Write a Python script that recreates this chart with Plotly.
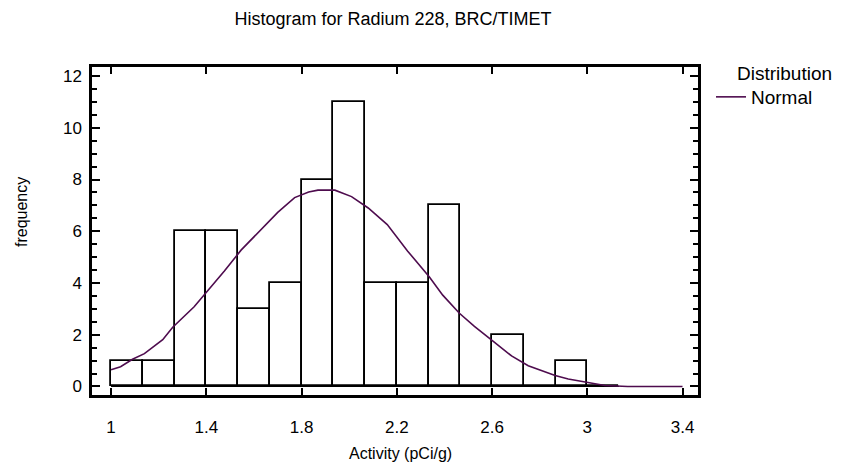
import plotly.graph_objects as go

# Histogram bins (lower edge) and counts
bin_width = 0.4 / 3
bin_starts = [1.0, 1.1333, 1.2667, 1.4, 1.5333, 1.6667, 1.8, 1.9333, 2.0667,
              2.2, 2.3333, 2.4667, 2.6, 2.7333, 2.8667, 3.0]
counts = [1, 1, 6, 6, 3, 4, 8, 11, 4, 4, 7, 0, 2, 0, 1, 0]

# Fitted normal curve
curve_x = [1.0, 1.04, 1.09, 1.14, 1.217, 1.259, 1.349, 1.405, 1.476, 1.546, 1.623,
           1.70, 1.771, 1.83, 1.869, 1.94, 2.01, 2.08, 2.16, 2.245, 2.337, 2.393,
           2.463, 2.526, 2.604, 2.682, 2.752, 2.865, 2.92, 3.004, 3.074, 3.17, 3.4]
curve_y = [0.65, 0.76, 1.05, 1.27, 1.81, 2.29, 3.08, 3.69, 4.46, 5.27, 6.0,
           6.73, 7.30, 7.52, 7.59, 7.59, 7.34, 6.9, 6.26, 5.24, 4.23, 3.53,
           2.83, 2.32, 1.75, 1.18, 0.8, 0.42, 0.29, 0.16, 0.04, 0.0, 0.0]

x_ticks = [1, 1.4, 1.8, 2.2, 2.6, 3, 3.4]
y_ticks = [0, 2, 4, 6, 8, 10, 12]

centers = [s + bin_width / 2 for s in bin_starts]
edges_span = [bin_starts[0], bin_starts[-1] + bin_width]

W, H = 847, 468
L, R, T, B = 84, 157, 59, 81
pw = W - L - R
ph = H - T - B


def px(xp):
    return (xp - L) / pw


def py(yp):
    return 1 - (yp - T) / ph


fig = go.Figure()
fig.add_trace(go.Scatter(
    x=edges_span, y=[0, 0], mode="lines",
    line=dict(color="black", width=1.2), showlegend=False, hoverinfo="skip",
))
fig.add_trace(go.Bar(
    x=centers, y=counts, width=bin_width,
    marker=dict(color="white", line=dict(color="black", width=1.8)),
    showlegend=False, hoverinfo="skip",
))
fig.add_trace(go.Scatter(
    x=curve_x, y=curve_y, mode="lines", name="Normal",
    line=dict(color="#4e0c4e", width=1.6),
))

font = "Liberation Sans, Arial, sans-serif"
fig.update_layout(
    width=W, height=H,
    margin=dict(l=L, r=R, t=T, b=B, autoexpand=False),
    paper_bgcolor="white", plot_bgcolor="white",
    font=dict(family=font, size=16, color="black"),
    title=dict(text="Histogram for Radium 228, BRC/TIMET", x=385 / W, xanchor="center",
               y=1 - 11 / H, yanchor="middle", font=dict(size=18)),
    legend=dict(
        x=px(703), y=py(70), xanchor="left", yanchor="top",
        bgcolor="rgba(0,0,0,0)", borderwidth=0, font=dict(size=19),
        itemwidth=30,
    ),
    annotations=[
        dict(text="Distribution", xref="paper", yref="paper",
             x=px(776), y=py(65), xanchor="center", yanchor="middle",
             showarrow=False, font=dict(size=19)),
        dict(text="Activity (pCi/g)", xref="paper", yref="paper",
             x=px(392), y=py(445), xanchor="center", yanchor="middle",
             showarrow=False, font=dict(size=16)),
        dict(text="frequency", xref="paper", yref="paper", textangle=-90,
             x=px(13), y=py(204), xanchor="center", yanchor="middle",
             showarrow=False, font=dict(size=16)),
    ],
    bargap=0,
)
fig.update_xaxes(
    range=[0.92, 3.465], tickvals=x_ticks, ticktext=[str(v) for v in x_ticks],
    showgrid=False, zeroline=False, automargin=False,
    showline=True, linecolor="black", linewidth=2.5, mirror="ticks",
    ticks="inside", ticklen=7, tickwidth=1.5, tickcolor="black",
    tickfont=dict(size=17), ticklabelstandoff=15,
)
fig.update_yaxes(
    range=[-0.33, 12.35], tickvals=y_ticks,
    showgrid=False, zeroline=False, automargin=False,
    showline=True, linecolor="black", linewidth=2.5, mirror="ticks",
    ticks="inside", ticklen=8, tickwidth=1.5, tickcolor="black",
    tickfont=dict(size=17), ticklabelstandoff=4,
    minor=dict(dtick=0.5, tick0=0, ticks="inside", ticklen=5, tickwidth=1.5, tickcolor="black"),
)

fig.write_html("out.html")
